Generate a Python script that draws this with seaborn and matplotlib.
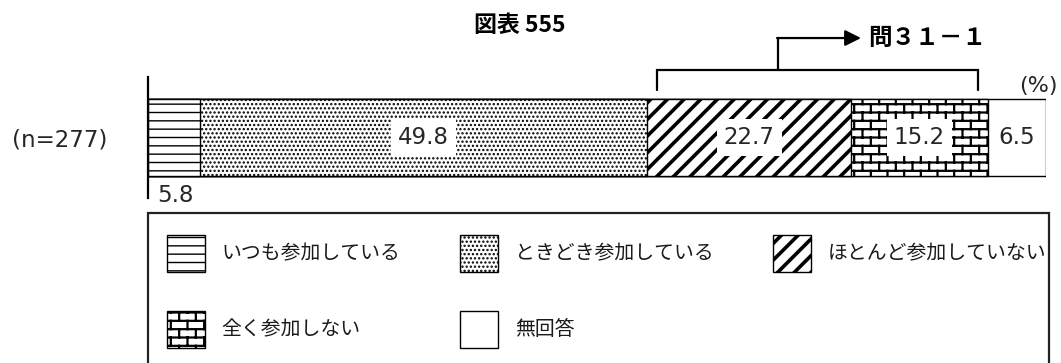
import warnings
import numpy as np
import matplotlib
matplotlib.use('Agg')
import matplotlib.pyplot as plt
import matplotlib.hatch as mhatch
import matplotlib.patches as mpatches
from matplotlib.font_manager import FontProperties
from matplotlib.path import Path
import seaborn as sns

warnings.filterwarnings('ignore')

# ---------------- data ----------------
categories = ['いつも参加している', 'ときどき参加している', 'ほとんど参加していない', '全く参加しない', '無回答']
values = [5.8, 49.8, 22.7, 15.2, 6.5]
sample_label = '(n=277)'
title = '図表 555'
bracket_label = '問３１－１'
unit_label = '(%)'

# ---------------- styles ----------------
hatches = ['--', '....', '//', 'BB', '']
hatch_widths = [1.0, 1.1, 2.6, 1.6, 1.0]


class BrickHatch(mhatch.HatchPatternBase):
    """Staggered brick pattern, triggered by the character 'B'."""

    def __init__(self, hatch, density):
        self.rows = int(hatch.count('B') * density)
        self.cols = max(self.rows // 2, 1)
        if self.rows:
            self.num_vertices = 2 * self.rows + 2 * self.cols * (self.rows + 1)
        else:
            self.num_vertices = 0

    def set_vertices_and_codes(self, vertices, codes):
        k = 0
        r, c = self.rows, self.cols
        for i in range(r):
            y = (i + 0.5) / r
            vertices[k] = (0.0, y)
            vertices[k + 1] = (1.0, y)
            codes[k] = Path.MOVETO
            codes[k + 1] = Path.LINETO
            k += 2
        for i in range(r):
            off = 0.5 * (i % 2)
            y0 = (i + 0.5) / r
            y1 = (i + 1.5) / r
            for j in range(c):
                x = (j + off + 0.25) / c
                if i < r - 1:
                    segs = [(y0, y1)]
                else:
                    segs = [(y0, 1.0), (0.0, 0.5 / r)]
                for a, b in segs:
                    vertices[k] = (x, a)
                    vertices[k + 1] = (x, b)
                    codes[k] = Path.MOVETO
                    codes[k + 1] = Path.LINETO
                    k += 2


mhatch._hatch_types.append(BrickHatch)

W, H = 1061, 363
sns.set_style('white')
plt.rcParams['font.family'] = ['DejaVu Sans', 'Noto Sans CJK JP']
plt.rcParams['hatch.color'] = 'black'
jp = 'Noto Sans CJK JP'
txt_color = '#262626'

fig = plt.figure(figsize=(W / 100, H / 100), dpi=100)
ax = fig.add_axes([148 / W, (H - 198) / H, 898 / W, 121 / H])
ax.set_facecolor('none')


def style_patch(p, hatch, lw):
    """Apply hatch and make its line width effective at draw time."""
    p.set_hatch(hatch)
    if hasattr(p, 'set_hatch_linewidth'):
        p.set_hatch_linewidth(lw)
    orig_draw = p.draw

    def draw(renderer, _orig=orig_draw, _lw=lw):
        with plt.rc_context({'hatch.linewidth': _lw}):
            _orig(renderer)

    p.draw = draw


vals = np.array(values)
cum = np.cumsum(vals)
left = cum - vals

# stacked bar: draw cumulative totals from widest to narrowest
for i in reversed(range(len(values))):
    before = len(ax.patches)
    sns.barplot(x=[cum[i]], y=[sample_label], orient='h', color='white',
                saturation=1, edgecolor='black', linewidth=1.0, width=0.636, ax=ax)
    for p in ax.patches[before:]:
        style_patch(p, hatches[i], hatch_widths[i])

ax.set_xlim(0, 100)
ax.set_ylim(0.5, -0.5)
ax.set_xlabel('')
ax.set_ylabel('')
ax.set_xticks([])
ax.tick_params(axis='y', length=0, pad=29, labelsize=16.5, labelcolor=txt_color)
for s in ['top', 'right', 'bottom']:
    ax.spines[s].set_visible(False)
ax.spines['left'].set_color('black')
ax.spines['left'].set_linewidth(1.6)

# value labels
xt = ax.get_xaxis_transform()
for i, v in enumerate(values):
    if v < 6 and hatches[i]:
        ax.text(left[i] + 1.0, 0.02, f'{v:.1f}', transform=xt,
                ha='left', va='center', fontsize=16.5, color=txt_color)
    else:
        bbox = dict(facecolor='white', edgecolor='none', pad=5) if hatches[i] else None
        ax.text(left[i] + v / 2, 0, f'{v:.1f}', ha='center', va='center',
                fontsize=16.5, color=txt_color, bbox=bbox)

# bracket over 22.7 + 15.2 with arrow to follow-up question
bl, br = cum[1] + 1.1, cum[3] - 1.1
ax.plot([bl, bl, br, br], [0.893, 1.058, 1.058, 0.893], transform=xt,
        color='black', lw=1.6, clip_on=False, solid_joinstyle='miter')
ax.plot([70.2, 70.2], [1.058, 1.322], transform=xt, color='black', lw=1.6,
        clip_on=False)
ax.annotate('', xy=(79.4, 1.322), xytext=(70.05, 1.322), xycoords=xt,
            textcoords=xt, annotation_clip=False,
            arrowprops=dict(arrowstyle='-|>', lw=1.6, color='black',
                            mutation_scale=24, shrinkA=0, shrinkB=0))
ax.text(80.2, 1.322, bracket_label, transform=xt, ha='left', va='center',
        fontsize=17, fontweight='bold', family=jp, color='black')

# title and unit
fig.text(520 / W, (H - 26) / H, title, ha='center', va='center', fontsize=16.5,
         fontweight='bold', family=jp, color='black')
fig.text(1058 / W, (H - 86) / H, unit_label, ha='right', va='center',
         fontsize=16, color=txt_color)

# legend
handles = [mpatches.Patch(facecolor='white', edgecolor='black', linewidth=1.0,
                          hatch=h, label=c) for c, h in zip(categories, hatches)]
order = [0, 3, 1, 4, 2]
leg = fig.legend([handles[k] for k in order], [categories[k] for k in order],
                 ncol=3, loc='upper left', bbox_to_anchor=(167 / W, (H - 235) / H),
                 frameon=False, borderpad=0, borderaxespad=0,
                 handlelength=1.9, handleheight=2.48, handletextpad=0.85,
                 columnspacing=3.0, labelspacing=1.96,
                 prop=FontProperties(family=jp, size=14.3))
for t in leg.get_texts():
    t.set_color('#1a1a1a')
for k, lp in zip(order, leg.get_patches()):
    style_patch(lp, hatches[k], hatch_widths[k])

fig.add_artist(mpatches.Rectangle((148 / W, -0.1), (1049 - 148) / W, 0.1 + (H - 213) / H,
                                  transform=fig.transFigure, fill=False,
                                  edgecolor='#222222', linewidth=1.6))

fig.savefig('out.png', dpi=100)
